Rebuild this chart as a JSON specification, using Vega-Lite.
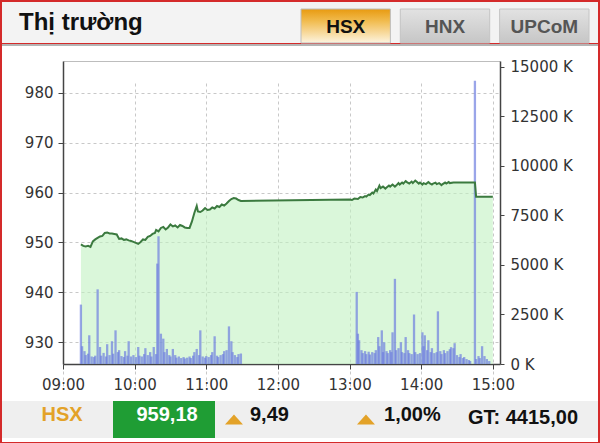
{
  "$schema": "https://vega.github.io/schema/vega-lite/v6.json",
  "background": "#d42a2a",
  "padding": 2,
  "spacing": 0,
  "config": {"view": {"stroke": null}, "font": "Liberation Sans"},
  "datasets": {
    "tabs": [
      {"tab": "HSX", "state": "active"},
      {"tab": "HNX", "state": "inactive"},
      {"tab": "UPCoM", "state": "inactive"}
    ],
    "heading": [{"text": "Thị trường"}],
    "footer": [
      {"cell": "name", "label": "HSX"},
      {"cell": "last", "label": "959,18"},
      {"cell": "change", "label": "9,49", "dir": "up"},
      {"cell": "pct", "label": "1,00%", "dir": "up"},
      {"cell": "gt", "label": "GT: 4415,00"}
    ],
    "series": [
      {"t": "09:15", "idx": 949.6}, {"t": "09:17", "idx": 949.3}, {"t": "09:19", "idx": 949.2}, {"t": "09:21", "idx": 949.3},
      {"t": "09:23", "idx": 949.1}, {"t": "09:25", "idx": 950.2}, {"t": "09:27", "idx": 950.6}, {"t": "09:29", "idx": 950.9},
      {"t": "09:31", "idx": 951.2}, {"t": "09:33", "idx": 951.3}, {"t": "09:35", "idx": 951.9}, {"t": "09:37", "idx": 952.0},
      {"t": "09:39", "idx": 951.8}, {"t": "09:41", "idx": 951.8}, {"t": "09:43", "idx": 951.7}, {"t": "09:45", "idx": 951.6},
      {"t": "09:47", "idx": 950.7}, {"t": "09:49", "idx": 950.8}, {"t": "09:51", "idx": 950.5}, {"t": "09:53", "idx": 950.6},
      {"t": "09:55", "idx": 950.4}, {"t": "09:57", "idx": 950.3}, {"t": "09:59", "idx": 950.1}, {"t": "10:01", "idx": 949.9},
      {"t": "10:03", "idx": 949.7}, {"t": "10:05", "idx": 950.1}, {"t": "10:07", "idx": 950.6}, {"t": "10:09", "idx": 950.5},
      {"t": "10:11", "idx": 951.1}, {"t": "10:13", "idx": 951.3}, {"t": "10:15", "idx": 951.7}, {"t": "10:17", "idx": 951.9},
      {"t": "10:18", "idx": 952.5}, {"t": "10:20", "idx": 952.2}, {"t": "10:22", "idx": 952.9}, {"t": "10:24", "idx": 953.1},
      {"t": "10:26", "idx": 952.6}, {"t": "10:28", "idx": 953.0}, {"t": "10:30", "idx": 953.6}, {"t": "10:32", "idx": 953.2},
      {"t": "10:34", "idx": 953.4}, {"t": "10:36", "idx": 953.0}, {"t": "10:38", "idx": 953.5}, {"t": "10:40", "idx": 953.3},
      {"t": "10:42", "idx": 953.0}, {"t": "10:44", "idx": 952.9}, {"t": "10:46", "idx": 952.9}, {"t": "10:48", "idx": 954.2},
      {"t": "10:50", "idx": 955.9}, {"t": "10:52", "idx": 957.3}, {"t": "10:53", "idx": 956.2}, {"t": "10:55", "idx": 956.1},
      {"t": "10:57", "idx": 956.4}, {"t": "10:59", "idx": 956.9}, {"t": "11:01", "idx": 956.5}, {"t": "11:03", "idx": 956.6},
      {"t": "11:05", "idx": 957.0}, {"t": "11:07", "idx": 956.8}, {"t": "11:09", "idx": 957.3}, {"t": "11:11", "idx": 957.1},
      {"t": "11:13", "idx": 957.6}, {"t": "11:15", "idx": 957.4}, {"t": "11:17", "idx": 957.8}, {"t": "11:19", "idx": 958.3},
      {"t": "11:21", "idx": 958.7}, {"t": "11:23", "idx": 958.9}, {"t": "11:25", "idx": 958.8}, {"t": "11:27", "idx": 958.5},
      {"t": "11:29", "idx": 958.3},
      {"t": "13:00", "idx": 958.6}, {"t": "13:02", "idx": 958.5}, {"t": "13:04", "idx": 958.8}, {"t": "13:07", "idx": 958.7},
      {"t": "13:09", "idx": 959.1}, {"t": "13:11", "idx": 959.0}, {"t": "13:13", "idx": 959.3}, {"t": "13:14", "idx": 959.2},
      {"t": "13:16", "idx": 959.6}, {"t": "13:17", "idx": 959.5}, {"t": "13:19", "idx": 960.0}, {"t": "13:20", "idx": 959.8},
      {"t": "13:22", "idx": 960.6}, {"t": "13:23", "idx": 960.3}, {"t": "13:25", "idx": 961.4}, {"t": "13:26", "idx": 960.9},
      {"t": "13:28", "idx": 961.2}, {"t": "13:30", "idx": 960.8}, {"t": "13:31", "idx": 961.0}, {"t": "13:33", "idx": 961.4},
      {"t": "13:34", "idx": 961.2}, {"t": "13:36", "idx": 961.6}, {"t": "13:38", "idx": 961.2}, {"t": "13:39", "idx": 961.4},
      {"t": "13:41", "idx": 961.9}, {"t": "13:42", "idx": 961.6}, {"t": "13:44", "idx": 962.0}, {"t": "13:45", "idx": 961.8},
      {"t": "13:47", "idx": 962.3}, {"t": "13:48", "idx": 962.1}, {"t": "13:50", "idx": 961.8}, {"t": "13:52", "idx": 962.2},
      {"t": "13:53", "idx": 961.9}, {"t": "13:55", "idx": 962.4}, {"t": "13:56", "idx": 962.2}, {"t": "13:58", "idx": 961.8},
      {"t": "13:59", "idx": 962.0}, {"t": "14:01", "idx": 961.6}, {"t": "14:02", "idx": 961.9}, {"t": "14:04", "idx": 961.7},
      {"t": "14:06", "idx": 962.1}, {"t": "14:07", "idx": 961.9}, {"t": "14:09", "idx": 961.6}, {"t": "14:10", "idx": 961.8},
      {"t": "14:12", "idx": 962.0}, {"t": "14:13", "idx": 961.7}, {"t": "14:15", "idx": 961.9}, {"t": "14:17", "idx": 961.5},
      {"t": "14:18", "idx": 961.7}, {"t": "14:20", "idx": 962.0}, {"t": "14:21", "idx": 961.8}, {"t": "14:23", "idx": 962.1},
      {"t": "14:24", "idx": 961.9}, {"t": "14:27", "idx": 962.0}, {"t": "14:30", "idx": 962.0}, {"t": "14:45", "idx": 962.0},
      {"t": "14:46", "idx": 959.18}, {"t": "15:00", "idx": 959.18}
    ],
    "volume": [
      {"time": "09:15", "vol": 3000}, {"time": "09:16", "vol": 900}, {"time": "09:18", "vol": 650}, {"time": "09:19", "vol": 450},
      {"time": "09:21", "vol": 520}, {"time": "09:22", "vol": 1450}, {"time": "09:24", "vol": 380}, {"time": "09:26", "vol": 350},
      {"time": "09:27", "vol": 420}, {"time": "09:29", "vol": 3770}, {"time": "09:31", "vol": 860}, {"time": "09:32", "vol": 420},
      {"time": "09:34", "vol": 560}, {"time": "09:36", "vol": 380}, {"time": "09:37", "vol": 1000}, {"time": "09:39", "vol": 450},
      {"time": "09:41", "vol": 1150}, {"time": "09:42", "vol": 520}, {"time": "09:44", "vol": 1700}, {"time": "09:46", "vol": 600},
      {"time": "09:47", "vol": 700}, {"time": "09:49", "vol": 400}, {"time": "09:51", "vol": 350}, {"time": "09:52", "vol": 650},
      {"time": "09:54", "vol": 420}, {"time": "09:55", "vol": 1150}, {"time": "09:57", "vol": 380}, {"time": "09:59", "vol": 450},
      {"time": "10:01", "vol": 350}, {"time": "10:03", "vol": 860}, {"time": "10:04", "vol": 420}, {"time": "10:06", "vol": 380},
      {"time": "10:08", "vol": 500}, {"time": "10:09", "vol": 800}, {"time": "10:11", "vol": 450}, {"time": "10:13", "vol": 600},
      {"time": "10:14", "vol": 380}, {"time": "10:16", "vol": 860}, {"time": "10:18", "vol": 500}, {"time": "10:19", "vol": 5070},
      {"time": "10:20", "vol": 6450}, {"time": "10:22", "vol": 1530}, {"time": "10:24", "vol": 1280}, {"time": "10:25", "vol": 600},
      {"time": "10:27", "vol": 760}, {"time": "10:29", "vol": 450}, {"time": "10:30", "vol": 380}, {"time": "10:32", "vol": 760},
      {"time": "10:34", "vol": 450}, {"time": "10:35", "vol": 320}, {"time": "10:37", "vol": 380}, {"time": "10:39", "vol": 300},
      {"time": "10:41", "vol": 350}, {"time": "10:42", "vol": 280}, {"time": "10:44", "vol": 320}, {"time": "10:46", "vol": 380},
      {"time": "10:47", "vol": 300}, {"time": "10:49", "vol": 420}, {"time": "10:50", "vol": 600}, {"time": "10:52", "vol": 760},
      {"time": "10:54", "vol": 450}, {"time": "10:55", "vol": 1700}, {"time": "10:57", "vol": 380}, {"time": "10:59", "vol": 320},
      {"time": "11:00", "vol": 400}, {"time": "11:02", "vol": 350}, {"time": "11:04", "vol": 450}, {"time": "11:05", "vol": 600},
      {"time": "11:07", "vol": 1400}, {"time": "11:09", "vol": 420}, {"time": "11:10", "vol": 350}, {"time": "11:12", "vol": 450},
      {"time": "11:14", "vol": 500}, {"time": "11:15", "vol": 650}, {"time": "11:17", "vol": 700}, {"time": "11:19", "vol": 1900},
      {"time": "11:21", "vol": 1150}, {"time": "11:22", "vol": 600}, {"time": "11:24", "vol": 450}, {"time": "11:26", "vol": 350},
      {"time": "11:27", "vol": 500}, {"time": "11:29", "vol": 530},
      {"time": "13:06", "vol": 3640}, {"time": "13:07", "vol": 1530}, {"time": "13:08", "vol": 1200}, {"time": "13:10", "vol": 700},
      {"time": "13:11", "vol": 550}, {"time": "13:13", "vol": 650}, {"time": "13:14", "vol": 500}, {"time": "13:16", "vol": 620},
      {"time": "13:17", "vol": 480}, {"time": "13:19", "vol": 600}, {"time": "13:21", "vol": 550}, {"time": "13:22", "vol": 700},
      {"time": "13:24", "vol": 1360}, {"time": "13:25", "vol": 900}, {"time": "13:27", "vol": 1700}, {"time": "13:28", "vol": 600},
      {"time": "13:29", "vol": 1100}, {"time": "13:31", "vol": 650}, {"time": "13:32", "vol": 550}, {"time": "13:34", "vol": 700},
      {"time": "13:35", "vol": 600}, {"time": "13:36", "vol": 1600}, {"time": "13:38", "vol": 4300}, {"time": "13:39", "vol": 700},
      {"time": "13:41", "vol": 800}, {"time": "13:43", "vol": 1100}, {"time": "13:44", "vol": 600}, {"time": "13:46", "vol": 550},
      {"time": "13:47", "vol": 1360}, {"time": "13:49", "vol": 700}, {"time": "13:50", "vol": 550}, {"time": "13:52", "vol": 500},
      {"time": "13:54", "vol": 2500}, {"time": "13:55", "vol": 600}, {"time": "13:57", "vol": 500}, {"time": "13:59", "vol": 550},
      {"time": "14:01", "vol": 1600}, {"time": "14:02", "vol": 900}, {"time": "14:03", "vol": 1450}, {"time": "14:05", "vol": 700},
      {"time": "14:06", "vol": 1200}, {"time": "14:08", "vol": 600}, {"time": "14:09", "vol": 800}, {"time": "14:11", "vol": 550},
      {"time": "14:13", "vol": 600}, {"time": "14:14", "vol": 2660}, {"time": "14:16", "vol": 650}, {"time": "14:17", "vol": 500},
      {"time": "14:19", "vol": 700}, {"time": "14:20", "vol": 550}, {"time": "14:22", "vol": 650}, {"time": "14:24", "vol": 750},
      {"time": "14:25", "vol": 850}, {"time": "14:27", "vol": 800}, {"time": "14:28", "vol": 1050}, {"time": "14:30", "vol": 450},
      {"time": "14:32", "vol": 350}, {"time": "14:33", "vol": 500}, {"time": "14:35", "vol": 300}, {"time": "14:36", "vol": 350},
      {"time": "14:38", "vol": 250}, {"time": "14:40", "vol": 200}, {"time": "14:41", "vol": 150}, {"time": "14:45", "vol": 14300},
      {"time": "14:46", "vol": 250}, {"time": "14:48", "vol": 400}, {"time": "14:49", "vol": 300}, {"time": "14:51", "vol": 900},
      {"time": "14:53", "vol": 400}, {"time": "14:55", "vol": 250}, {"time": "14:57", "vol": 150}
    ]
  },
  "vconcat": [
    {
      "width": 596,
      "height": 41,
      "view": {"fill": "#f3f3f3", "stroke": null},
      "layer": [
        {
          "data": {"name": "tabs"},
          "encoding": {
            "x": {"field": "tab", "type": "nominal", "sort": null, "scale": {"type": "band", "domain": ["HSX", "HNX", "UPCoM"], "range": [299, 587], "paddingInner": 0.1, "paddingOuter": 0}, "axis": null},
            "y": {"datum": "tab", "type": "nominal", "scale": {"type": "band", "range": [7, 41], "paddingInner": 0, "paddingOuter": 0}, "axis": null}
          },
          "layer": [
            {
              "transform": [{"filter": "datum.state == 'active'"}],
              "mark": {"type": "rect", "stroke": "#bdbdbd", "strokeWidth": 1,
                "fill": {"gradient": "linear", "x1": 0, "y1": 0, "x2": 0, "y2": 1,
                  "stops": [{"offset": 0, "color": "#e89a10"}, {"offset": 0.35, "color": "#f1bb4e"}, {"offset": 1, "color": "#fdf4e0"}]}}
            },
            {
              "transform": [{"filter": "datum.state == 'inactive'"}],
              "mark": {"type": "rect", "stroke": "#c4c4c4", "strokeWidth": 1,
                "fill": {"gradient": "linear", "x1": 0, "y1": 0, "x2": 0, "y2": 1,
                  "stops": [{"offset": 0, "color": "#e2e2e2"}, {"offset": 1, "color": "#c6c6c6"}]}}
            },
            {
              "mark": {"type": "text", "font": "Liberation Sans", "fontSize": 19, "fontWeight": "bold", "baseline": "middle", "align": "center", "dy": 1},
              "encoding": {
                "text": {"field": "tab"},
                "color": {"field": "state", "type": "nominal", "scale": {"domain": ["active", "inactive"], "range": ["#111111", "#555555"]}, "legend": null}
              }
            }
          ]
        },
        {
          "data": {"name": "heading"},
          "mark": {"type": "text", "font": "Liberation Sans", "fontSize": 24, "fontWeight": "bold", "color": "#111111", "align": "left", "baseline": "middle"},
          "encoding": {
            "x": {"field": "text", "type": "nominal", "bandPosition": 0, "scale": {"type": "band", "range": [17, 250], "paddingInner": 0, "paddingOuter": 0}, "axis": null},
            "y": {"field": "text", "type": "nominal", "scale": {"type": "band", "range": [0, 41], "paddingInner": 0, "paddingOuter": 0}, "axis": null},
            "text": {"field": "text"}
          }
        }
      ],
      "resolve": {"scale": {"x": "independent", "y": "independent"}}
    },
    {
      "width": 596,
      "height": 2,
      "view": {"fill": "#b4b4b4", "stroke": null},
      "data": {"values": [{"v": 0}]},
      "mark": {"type": "tick", "opacity": 0},
      "encoding": {"x": {"field": "v", "type": "quantitative", "axis": null}}
    },
    {
      "width": 596,
      "height": 355,
      "view": {"fill": "#ffffff", "stroke": null},
      "data": {"name": "series", "format": {"parse": {"t": "date:'%H:%M'"}}},
      "encoding": {
        "x": {"field": "t", "type": "temporal",
          "scale": {"domain": [{"year": 1900, "month": 1, "date": 1, "hours": 9, "minutes": 0}, {"year": 1900, "month": 1, "date": 1, "hours": 15, "minutes": 6}], "range": [61, 498], "nice": false, "padding": 0},
          "axis": {"orient": "bottom", "offset": -37, "format": "%H:%M",
            "values": [
              {"year": 1900, "month": 1, "date": 1, "hours": 9}, {"year": 1900, "month": 1, "date": 1, "hours": 10},
              {"year": 1900, "month": 1, "date": 1, "hours": 11}, {"year": 1900, "month": 1, "date": 1, "hours": 12},
              {"year": 1900, "month": 1, "date": 1, "hours": 13}, {"year": 1900, "month": 1, "date": 1, "hours": 14},
              {"year": 1900, "month": 1, "date": 1, "hours": 15}],
            "title": null,
            "grid": true, "gridColor": "#c8c8c8", "gridDash": [3, 3], "gridWidth": 1,
            "domainColor": "#444444", "domainWidth": 1.5, "tickColor": "#444444", "tickSize": 5,
            "labelFont": "DejaVu Sans", "labelFontSize": 15, "labelColor": "#333333", "labelPadding": 8, "labelFlush": false}}
      },
      "layer": [
        {
          "mark": {"type": "area", "color": "#c2f2c2", "opacity": 0.6},
          "encoding": {
            "y": {"field": "idx", "type": "quantitative",
              "scale": {"domain": [925.6, 986.4], "range": [318, 15], "nice": false, "zero": false},
              "axis": {"orient": "left", "offset": -61, "values": [930, 940, 950, 960, 970, 980, 986.4], "title": null,
                "labelExpr": "datum.value > 985 ? '' : datum.label",
                "grid": true, "gridWidth": 1,
                "gridColor": {"condition": {"test": "datum.value > 985", "value": "#bdbdbd"}, "value": "#c8c8c8"},
                "gridDash": {"condition": {"test": "datum.value > 985", "value": []}, "value": [3, 3]},
                "tickOpacity": {"condition": {"test": "datum.value > 985", "value": 0}, "value": 1},
                "domainColor": "#444444", "domainWidth": 1.5, "tickColor": "#444444", "tickSize": 5,
                "labelFont": "DejaVu Sans", "labelFontSize": 15, "labelColor": "#333333", "labelPadding": 5}},
            "y2": {"datum": 925.6}
          }
        },
        {
          "data": {"name": "volume", "format": {"parse": {"time": "date:'%H:%M'"}}},
          "mark": {"type": "bar", "width": 2.3, "color": "#6f7fe0", "opacity": 0.7},
          "encoding": {
            "x": {"field": "time", "type": "temporal",
              "scale": {"domain": [{"year": 1900, "month": 1, "date": 1, "hours": 9, "minutes": 0}, {"year": 1900, "month": 1, "date": 1, "hours": 15, "minutes": 6}], "range": [61, 498], "nice": false, "padding": 0},
              "axis": {"orient": "bottom", "offset": -37, "format": "%H:%M",
                "values": [
                  {"year": 1900, "month": 1, "date": 1, "hours": 9}, {"year": 1900, "month": 1, "date": 1, "hours": 10},
                  {"year": 1900, "month": 1, "date": 1, "hours": 11}, {"year": 1900, "month": 1, "date": 1, "hours": 12},
                  {"year": 1900, "month": 1, "date": 1, "hours": 13}, {"year": 1900, "month": 1, "date": 1, "hours": 14},
                  {"year": 1900, "month": 1, "date": 1, "hours": 15}],
                "title": null,
                "grid": true, "gridColor": "#c8c8c8", "gridDash": [3, 3], "gridWidth": 1,
                "domainColor": "#444444", "domainWidth": 1.5, "tickColor": "#444444", "tickSize": 5,
                "labelFont": "DejaVu Sans", "labelFontSize": 15, "labelColor": "#333333", "labelPadding": 8, "labelFlush": false}},
            "y": {"field": "vol", "type": "quantitative",
              "scale": {"domain": [0, 15300], "range": [318, 15], "nice": false},
              "axis": {"orient": "right", "offset": -98, "values": [0, 2500, 5000, 7500, 10000, 12500, 15000], "labelExpr": "datum.value + ' K'", "title": null,
                "grid": false, "domainColor": "#444444", "domainWidth": 1.5, "tickColor": "#444444", "tickSize": 4,
                "labelFont": "DejaVu Sans", "labelFontSize": 15, "labelColor": "#333333", "labelPadding": 6}}
          }
        },
        {
          "mark": {"type": "line", "color": "#3b7a3f", "strokeWidth": 2},
          "encoding": {
            "y": {"field": "idx", "type": "quantitative",
              "scale": {"domain": [925.6, 986.4], "range": [318, 15], "nice": false, "zero": false},
              "axis": null}
          }
        }
      ],
      "resolve": {"scale": {"y": "independent"}}
    },
    {
      "width": 596,
      "height": 37,
      "view": {"fill": "#efefef", "stroke": null},
      "data": {"name": "footer"},
      "layer": [
        {
          "transform": [{"filter": "datum.cell == 'last'"}],
          "mark": {"type": "bar", "color": "#1f9d34"},
          "encoding": {
            "x": {"field": "cell", "type": "nominal", "scale": {"domain": ["name", "last", "change", "pct", "gt"], "range": [9, 519], "paddingInner": 0, "paddingOuter": 0}, "axis": null}
          }
        },
        {
          "transform": [{"filter": "datum.cell == 'name'"}],
          "mark": {"type": "text", "font": "Liberation Sans", "fontSize": 20, "fontWeight": "bold", "color": "#e3a228", "align": "center", "baseline": "middle", "dy": -5},
          "encoding": {"x": {"field": "cell", "type": "nominal", "bandPosition": 0.5}, "text": {"field": "label"}}
        },
        {
          "transform": [{"filter": "datum.cell == 'last'"}],
          "mark": {"type": "text", "font": "Liberation Sans", "fontSize": 20, "fontWeight": "bold", "color": "#ffffff", "align": "center", "baseline": "middle", "dy": -5},
          "encoding": {"x": {"field": "cell", "type": "nominal", "bandPosition": 0.53}, "text": {"field": "label"}}
        },
        {
          "transform": [{"filter": "datum.cell == 'change'"}],
          "mark": {"type": "point", "shape": "M-1,0.55L1,0.55L0,-0.55Z", "size": 324, "filled": true, "color": "#e3a228", "opacity": 1},
          "encoding": {"x": {"field": "cell", "type": "nominal", "bandPosition": 0.186}}
        },
        {
          "transform": [{"filter": "datum.cell == 'pct'"}],
          "mark": {"type": "point", "shape": "M-1,0.55L1,0.55L0,-0.55Z", "size": 324, "filled": true, "color": "#e3a228", "opacity": 1},
          "encoding": {"x": {"field": "cell", "type": "nominal", "bandPosition": 0.48}}
        },
        {
          "transform": [{"filter": "datum.cell == 'change'"}],
          "mark": {"type": "text", "font": "Liberation Sans", "fontSize": 20, "fontWeight": "bold", "color": "#111111", "align": "left", "baseline": "middle", "dy": -5},
          "encoding": {"x": {"field": "cell", "type": "nominal", "bandPosition": 0.343}, "text": {"field": "label"}}
        },
        {
          "transform": [{"filter": "datum.cell == 'pct'"}],
          "mark": {"type": "text", "font": "Liberation Sans", "fontSize": 20, "fontWeight": "bold", "color": "#111111", "align": "left", "baseline": "middle", "dy": -5},
          "encoding": {"x": {"field": "cell", "type": "nominal", "bandPosition": 0.657}, "text": {"field": "label"}}
        },
        {
          "transform": [{"filter": "datum.cell == 'gt'"}],
          "mark": {"type": "text", "font": "Liberation Sans", "fontSize": 20, "fontWeight": "bold", "color": "#111111", "align": "left", "baseline": "middle", "dy": -2},
          "encoding": {"x": {"field": "cell", "type": "nominal", "bandPosition": 0.48}, "text": {"field": "label"}}
        }
      ]
    },
    {
      "width": 596,
      "height": 4,
      "view": {"fill": "#ffffff", "stroke": null},
      "data": {"values": [{"v": 0}]},
      "mark": {"type": "tick", "opacity": 0},
      "encoding": {"x": {"field": "v", "type": "quantitative", "axis": null}}
    }
  ]
}
